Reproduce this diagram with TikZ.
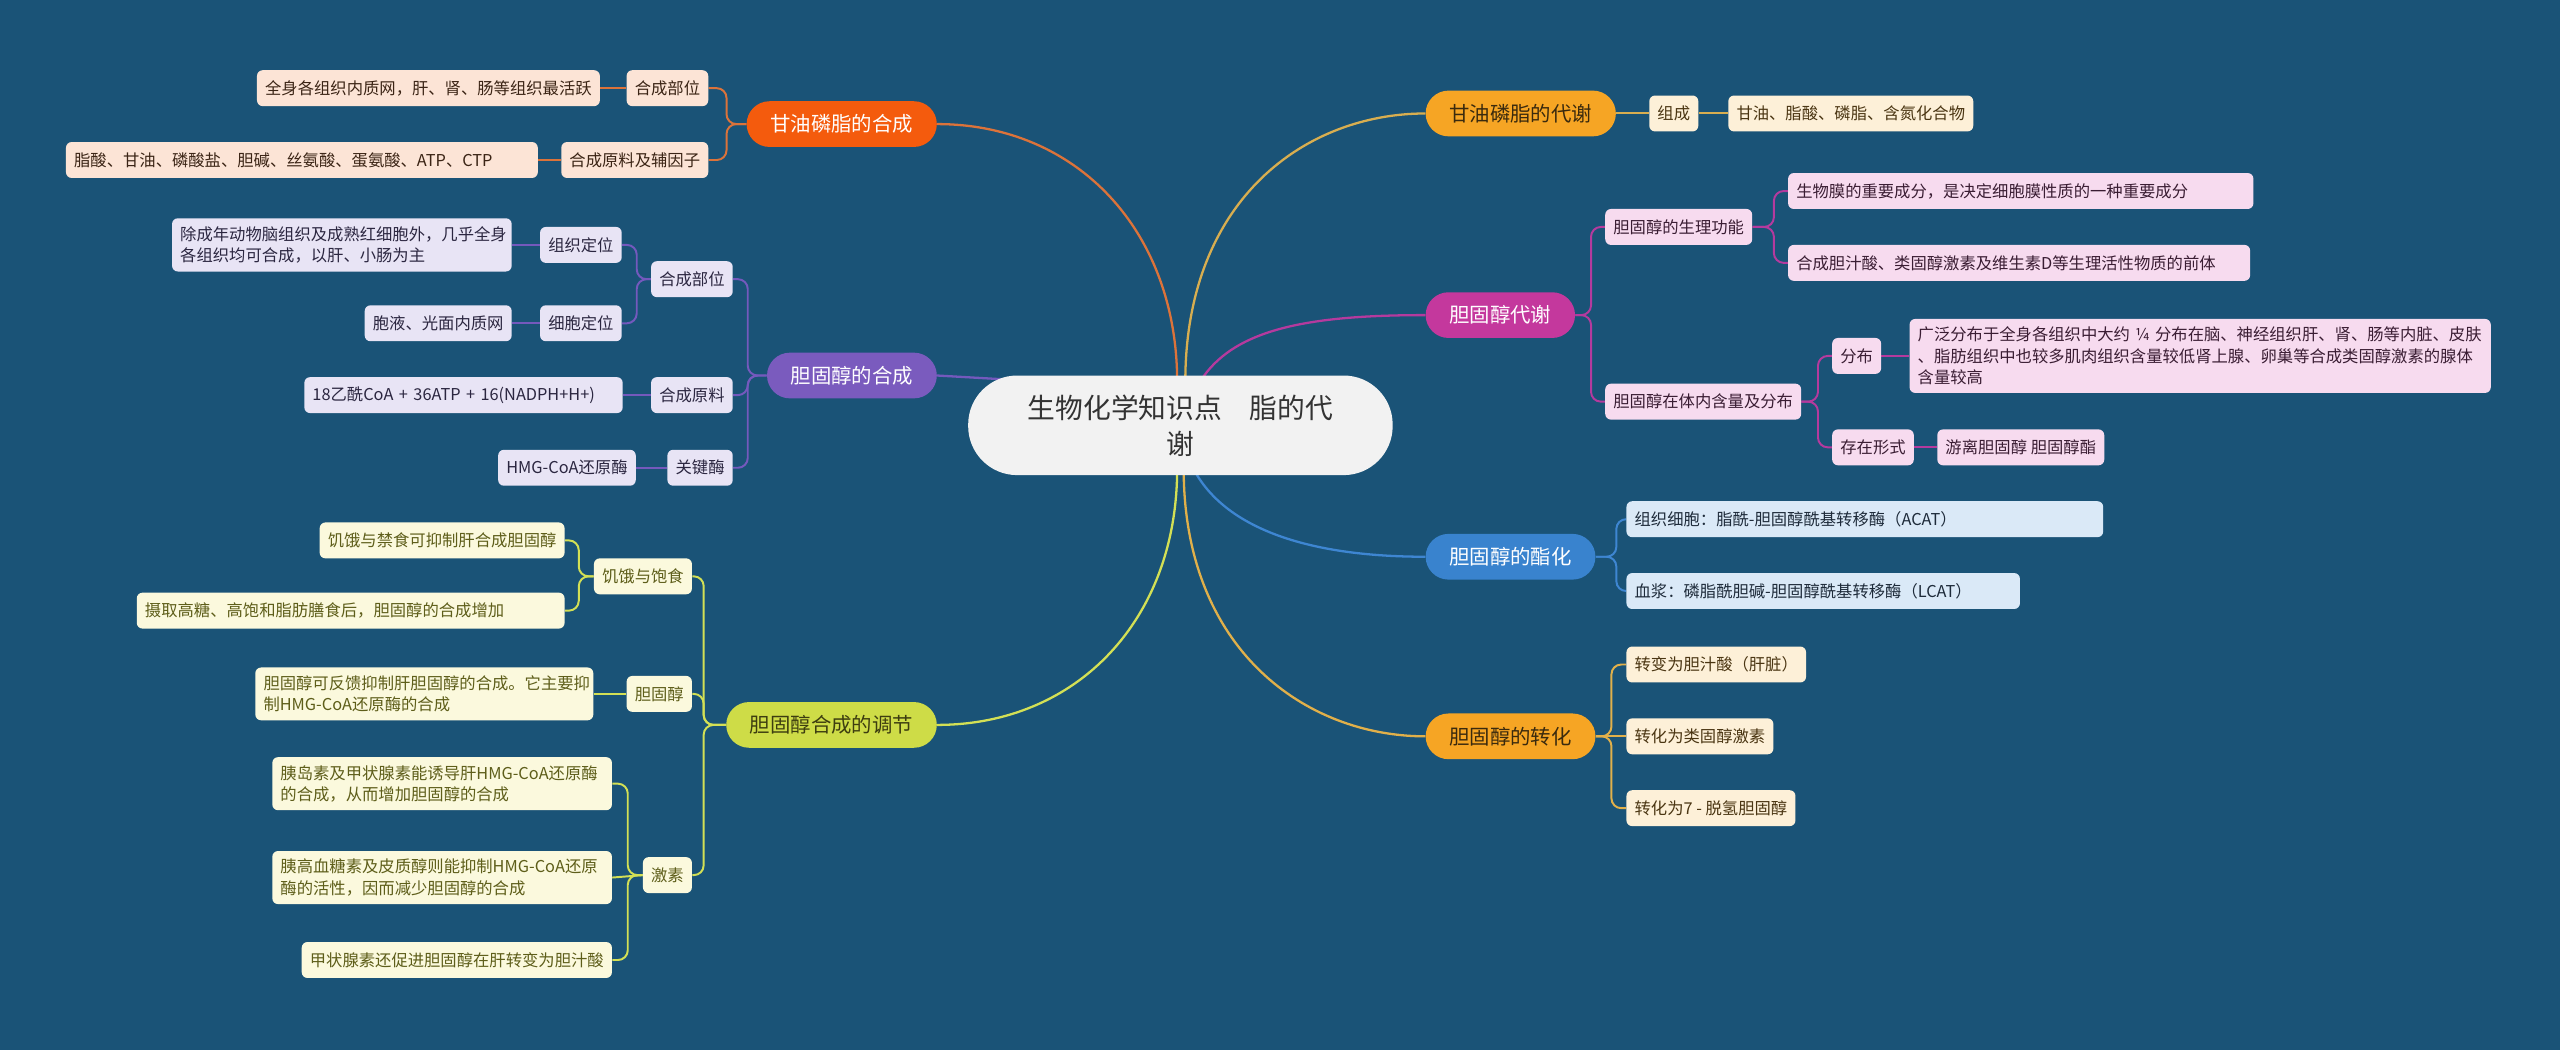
\documentclass[tikz,border=0pt]{standalone}
\usepackage{fontspec}
\setmainfont{Noto Sans CJK SC}
\usepackage{xcolor}
\usepackage{tikz}
\usetikzlibrary{positioning,calc,backgrounds}

\definecolor{bgc}{HTML}{1A5377}
\definecolor{hubF}{HTML}{F2F2F2}
\definecolor{hubT}{HTML}{333333}
\definecolor{orgM}{HTML}{F45B0D}
\definecolor{orgL}{HTML}{DC733A}
\definecolor{pchF}{HTML}{FCE4D6}
\definecolor{pchT}{HTML}{3B2415}
\definecolor{purM}{HTML}{7A5BBE}
\definecolor{purL}{HTML}{7459BD}
\definecolor{lavF}{HTML}{E8E4F5}
\definecolor{lavT}{HTML}{2B2640}
\definecolor{limM}{HTML}{CEDC47}
\definecolor{limL}{HTML}{D3E055}
\definecolor{limT}{HTML}{3D3D10}
\definecolor{crmF}{HTML}{FBF9DD}
\definecolor{crmT}{HTML}{5E5E1A}
\definecolor{ambM}{HTML}{F6A524}
\definecolor{ambT}{HTML}{3A2A0E}
\definecolor{gldL}{HTML}{D8AE50}
\definecolor{ambL}{HTML}{E1B04A}
\definecolor{ylwF}{HTML}{FDF0D8}
\definecolor{ylwT}{HTML}{4A3512}
\definecolor{magM}{HTML}{C4389D}
\definecolor{magL}{HTML}{B53A9E}
\definecolor{pnkF}{HTML}{F7DBEF}
\definecolor{pnkT}{HTML}{3A1D33}
\definecolor{bluM}{HTML}{3983CE}
\definecolor{bluL}{HTML}{3E86D2}
\definecolor{skyF}{HTML}{DAE9F7}
\definecolor{skyT}{HTML}{1E2B3A}

\begin{document}
\begin{tikzpicture}[x=1pt,y=-1pt,
   hub/.style={fill=hubF,text=hubT,rounded corners=30pt,minimum width=260pt,
               minimum height=61pt,align=center,font=\fontsize{17}{22}\selectfont},
   br/.style={rounded corners=14pt,minimum height=28pt,inner xsep=14.5pt,inner ysep=0pt,
              font=\fontsize{12.5}{15}\selectfont},
   lf/.style={rounded corners=3.5pt,minimum height=22pt,inner xsep=5pt,inner ysep=5pt,
              align=left,font=\fontsize{10}{13}\selectfont},
   pch/.style={lf,fill=pchF,text=pchT},
   lav/.style={lf,fill=lavF,text=lavT},
   crm/.style={lf,fill=crmF,text=crmT},
   ylw/.style={lf,fill=ylwF,text=ylwT},
   pnk/.style={lf,fill=pnkF,text=pnkT},
   sky/.style={lf,fill=skyF,text=skyT},
   cv/.style={line width=1.4pt},
   lk/.style={line width=1.2pt,rounded corners=6pt}]
  \useasboundingbox (0,0) rectangle (1568,643);

  \node[hub] (hub) at (723,260.5) {生物化学知识点\quad 脂的代\\谢};

  % left: glycerophospholipid synthesis
  \node[br,fill=orgM,text=white,anchor=east] (gs) at (574,76) {甘油磷脂的合成};
  \node[pch,anchor=east] (gs1) at (434,54) {合成部位};
  \node[pch,left=16pt of gs1] (gs1a) {全身各组织内质网，肝、肾、肠等组织最活跃};
  \node[pch,anchor=east] (gs2) at (434,98) {合成原料及辅因子};
  \node[pch,left=14pt of gs2,text width=279pt] (gs2a) {脂酸、甘油、磷酸盐、胆碱、丝氨酸、蛋氨酸、ATP、CTP};

  % left: cholesterol synthesis
  \node[br,fill=purM,text=white,anchor=east] (hs) at (574,230) {胆固醇的合成};
  \node[lav,anchor=east] (hs1) at (449,171) {合成部位};
  \node[lav,anchor=east] (hs11) at (381,150) {组织定位};
  \node[lav,left=17pt of hs11,text width=198pt] (hs11a) {除成年动物脑组织及成熟红细胞外，几乎全身\\各组织均可合成，以肝、小肠为主};
  \node[lav,anchor=east] (hs12) at (381,198) {细胞定位};
  \node[lav,left=17pt of hs12] (hs12a) {胞液、光面内质网};
  \node[lav,anchor=east] (hs2) at (449,242) {合成原料};
  \node[lav,left=17pt of hs2,text width=185pt] (hs2a) {18乙酰CoA + 36ATP + 16(NADPH+H+)};
  \node[lav,anchor=east] (hs3) at (449,286.5) {关键酶};
  \node[lav,left=19pt of hs3] (hs3a) {HMG-CoA还原酶};

  % left: regulation
  \node[br,fill=limM,text=limT,anchor=east] (rs) at (574,444) {胆固醇合成的调节};
  \node[crm,anchor=east] (rs1) at (424,353) {饥饿与饱食};
  \node[crm,anchor=east] (rs1a) at (346,331) {饥饿与禁食可抑制肝合成胆固醇};
  \node[crm,anchor=east,text width=252pt] (rs1b) at (346,374) {摄取高糖、高饱和脂肪膳食后，胆固醇的合成增加};
  \node[crm,anchor=east] (rs2) at (424,425) {胆固醇};
  \node[crm,left=20pt of rs2,text width=197pt] (rs2a) {胆固醇可反馈抑制肝胆固醇的合成。它主要抑\\制HMG-CoA还原酶的合成};
  \node[crm,anchor=east] (rs3) at (424,536) {激素};
  \node[crm,anchor=east,text width=198pt] (rs3a) at (375,480) {胰岛素及甲状腺素能诱导肝HMG-CoA还原酶\\的合成，从而增加胆固醇的合成};
  \node[crm,anchor=east,text width=198pt] (rs3b) at (375,537.5) {胰高血糖素及皮质醇则能抑制HMG-CoA还原\\酶的活性，因而减少胆固醇的合成};
  \node[crm,anchor=east] (rs3c) at (375,588) {甲状腺素还促进胆固醇在肝转变为胆汁酸};

  % right: glycerophospholipid metabolism
  \node[br,fill=ambM,text=ambT,anchor=west] (gm) at (873,69.5) {甘油磷脂的代谢};
  \node[ylw,anchor=west] (gm1) at (1010,69.5) {组成};
  \node[ylw,right=18pt of gm1] (gm1a) {甘油、脂酸、磷脂、含氮化合物};

  % right: cholesterol metabolism
  \node[br,fill=magM,text=white,anchor=west] (cm) at (873,193) {胆固醇代谢};
  \node[pnk,anchor=west] (cm1) at (983,139) {胆固醇的生理功能};
  \node[pnk,anchor=west,text width=275pt] (cm1a) at (1095,117) {生物膜的重要成分，是决定细胞膜性质的一种重要成分};
  \node[pnk,anchor=west,text width=273pt] (cm1b) at (1095,161) {合成胆汁酸、类固醇激素及维生素D等生理活性物质的前体};
  \node[pnk,anchor=west] (cm2) at (983,246) {胆固醇在体内含量及分布};
  \node[pnk,anchor=west] (cm21) at (1122,218) {分布};
  \node[pnk,right=17pt of cm21,text width=346pt] (cm21a) {广泛分布于全身各组织中大约 ¼ 分布在脑、神经组织肝、肾、肠等内脏、皮肤\\、脂肪组织中也较多肌肉组织含量较低肾上腺、卵巢等合成类固醇激素的腺体\\含量较高};
  \node[pnk,anchor=west] (cm22) at (1122,274) {存在形式};
  \node[pnk,right=14pt of cm22] (cm22a) {游离胆固醇 胆固醇酯};

  % right: esterification
  \node[br,fill=bluM,text=white,anchor=west] (em) at (873,341) {胆固醇的酯化};
  \node[sky,anchor=west,text width=282pt] (em1) at (996,318) {组织细胞：脂酰-胆固醇酰基转移酶（ACAT）};
  \node[sky,anchor=west,text width=231pt] (em2) at (996,362) {血浆：磷脂酰胆碱-胆固醇酰基转移酶（LCAT）};

  % right: conversion
  \node[br,fill=ambM,text=ambT,anchor=west] (tm) at (873,451) {胆固醇的转化};
  \node[ylw,anchor=west] (tm1) at (996,407) {转变为胆汁酸（肝脏）};
  \node[ylw,anchor=west] (tm2) at (996,451) {转化为类固醇激素};
  \node[ylw,anchor=west] (tm3) at (996,495) {转化为7 - 脱氢胆固醇};

  \begin{scope}[on background layer]
    \fill[bgc] (0,0) rectangle (1568,643);
    % hub curves
    \draw[cv,orgL] ($(hub.north)+(-2,4)$) .. controls +(0,-92) and +(86,0) .. (gs.east);
    \draw[cv,gldL] ($(hub.north)+(3,4)$) .. controls +(0,-112) and +(-73,0) .. (gm.west);
    \draw[cv,magL] ($(hub.north)+(12,4)$) .. controls +(20,-32) and +(-73,0) .. (cm.west);
    \draw[cv,purL] (hs.east) -- ($(hub.west)+(25,-28)$);
    \draw[cv,limL] ($(hub.south)+(-2,-4)$) .. controls +(0,92) and +(86,0) .. (rs.east);
    \draw[cv,ambL] ($(hub.south)+(2,-4)$) .. controls +(0,111) and +(-73,0) .. (tm.west);
    \draw[cv,bluL] ($(hub.south)+(8,-4)$) .. controls +(19,36) and +(-73,0) .. (em.west);
    % left links
    \draw[lk,orgL] (gs1.east) -- ++(11,0) |- (gs.west);
    \draw[lk,orgL] (gs2.east) -- ++(11,0) |- (gs.west);
    \draw[lk,orgL] (gs1a) -- (gs1);
    \draw[lk,orgL] (gs2a) -- (gs2);
    \draw[lk,purL] (hs1.east) -- ++(9,0) |- (hs.west);
    \draw[lk,purL] (hs2.east) -- ++(9,0) |- (hs.west);
    \draw[lk,purL] (hs3.east) -- ++(9,0) |- (hs.west);
    \draw[lk,purL] (hs11.east) -- ++(9,0) |- (hs1.west);
    \draw[lk,purL] (hs12.east) -- ++(9,0) |- (hs1.west);
    \draw[lk,purL] (hs11a) -- (hs11);
    \draw[lk,purL] (hs12a) -- (hs12);
    \draw[lk,purL] (hs2a) -- (hs2);
    \draw[lk,purL] (hs3a) -- (hs3);
    \draw[lk,limL] (rs1.east) -- ++(7,0) |- (rs.west);
    \draw[lk,limL] (rs2.east) -- ++(7,0) |- (rs.west);
    \draw[lk,limL] (rs3.east) -- ++(7,0) |- (rs.west);
    \draw[lk,limL] (rs1a.east) -- ++(8.5,0) |- (rs1.west);
    \draw[lk,limL] (rs1b.east) -- ++(8.5,0) |- (rs1.west);
    \draw[lk,limL] (rs2a) -- (rs2);
    \draw[lk,limL] (rs3a.east) -- ++(9.5,0) |- (rs3.west);
    \draw[lk,limL] (rs3b.east) -- (rs3.west);
    \draw[lk,limL] (rs3c.east) -- ++(9.5,0) |- (rs3.west);
    % right links
    \draw[lk,gldL] (gm) -- (gm1);
    \draw[lk,gldL] (gm1) -- (gm1a);
    \draw[lk,magL] (cm1.west) -- ++(-8.5,0) |- (cm.east);
    \draw[lk,magL] (cm2.west) -- ++(-8.5,0) |- (cm.east);
    \draw[lk,magL] (cm1a.west) -- ++(-8.5,0) |- (cm1.east);
    \draw[lk,magL] (cm1b.west) -- ++(-8.5,0) |- (cm1.east);
    \draw[lk,magL] (cm21.west) -- ++(-8.5,0) |- (cm2.east);
    \draw[lk,magL] (cm22.west) -- ++(-8.5,0) |- (cm2.east);
    \draw[lk,magL] (cm21) -- (cm21a);
    \draw[lk,magL] (cm22) -- (cm22a);
    \draw[lk,bluL] (em1.west) -- ++(-6,0) |- (em.east);
    \draw[lk,bluL] (em2.west) -- ++(-6,0) |- (em.east);
    \draw[lk,ambL] (tm1.west) -- ++(-9,0) |- (tm.east);
    \draw[lk,ambL] (tm2) -- (tm);
    \draw[lk,ambL] (tm3.west) -- ++(-9,0) |- (tm.east);
  \end{scope}
\end{tikzpicture}
\end{document}
